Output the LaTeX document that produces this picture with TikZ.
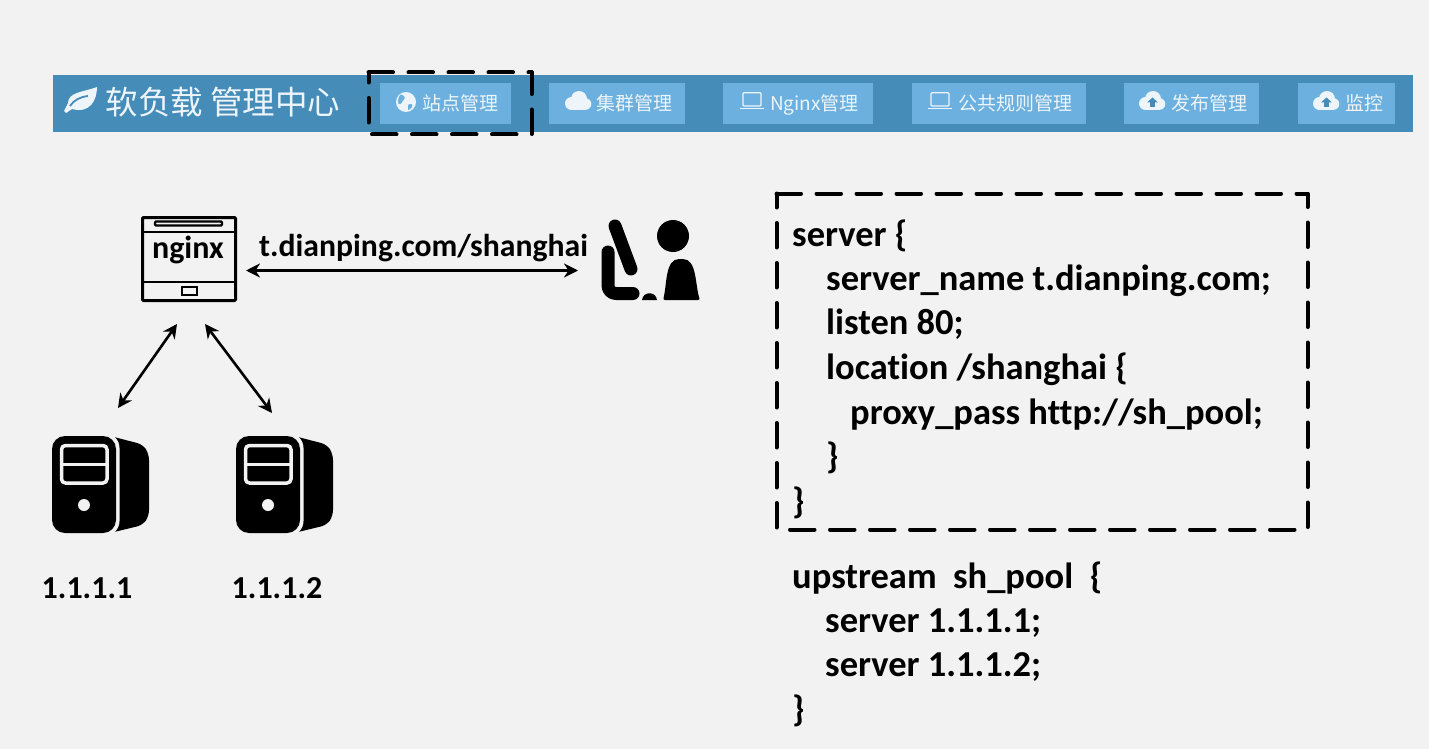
\documentclass[tikz,border=0pt]{standalone}
\usepackage{fontspec}
\setmainfont{Carlito}[Ligatures=NoCommon]
\newfontfamily\cjk{Noto Sans CJK SC}
\usetikzlibrary{arrows.meta,calc}
\definecolor{bg}{HTML}{F2F2F2}
\definecolor{barblue}{HTML}{458CB9}
\definecolor{btnblue}{HTML}{6CB0DF}
\definecolor{btntext}{HTML}{EDF5FA}
\tikzset{
  x=1pt,y=-1pt,
  btn/.style={fill=btnblue,minimum height=41pt,inner sep=0pt,outer sep=0pt,anchor=north west},
  btntxt/.style={text=btntext,font=\cjk\fontsize{19}{19}\selectfont,inner sep=0pt,anchor=base west},
  ghost/.style={inner sep=0pt,outer sep=0pt,anchor=north west},
  dashline/.style={draw=black,line width=4pt,dash pattern=on 24.5pt off 15.5pt,line cap=round,line join=round},
  code/.style={font=\fontsize{36.5}{36.5}\selectfont\bfseries,inner sep=0pt,anchor=base west},
  iplabel/.style={font=\fontsize{32}{32}\selectfont\bfseries,inner sep=0pt},
  biarrow/.style={line width=2.6pt,{Stealth[length=14pt,width=14pt]}-{Stealth[length=14pt,width=14pt]}},
  cloudicon/.pic={
    \fill[btntext] (6.5,12.5) circle (6.5);
    \fill[btntext] (14,8) circle (8);
    \fill[btntext] (20.5,13) circle (5.8);
    \fill[btntext] (6.5,10) rectangle (20.5,19);
  },
  upcloud/.pic={
    \fill[btntext] (6.5,12.5) circle (6.5);
    \fill[btntext] (14,8) circle (8);
    \fill[btntext] (20.5,13) circle (5.8);
    \fill[btntext] (6.5,10) rectangle (20.5,19);
    \fill[barblue] (13.5,6.5) -- (19,11.5) -- (15.8,11.5) -- (15.8,16) -- (11.2,16) -- (11.2,11.5) -- (8,11.5) -- cycle;
  },
  laptop/.pic={
    \draw[btntext,line width=1.3pt,rounded corners=1pt] (3,0.7) rectangle (21,14);
    \draw[btntext,line width=1.8pt] (0,16.5) -- (24,16.5);
  },
  towericon/.pic={
    \fill[black,rounded corners=6pt] (58,0) -- (91,8.5) -- (97,18) -- (97,80) -- (91,89) -- (58,97) -- cycle;
    \fill[bg,rounded corners=15pt] (50,-3) rectangle (67.5,100);
    \fill[black,rounded corners=13pt] (0,0) rectangle (64,97);
    \draw[bg,line width=3.5pt,rounded corners=4pt] (9.5,9.5) rectangle (55,47);
    \draw[bg,line width=3.5pt] (9.5,28.5) -- (55,28.5);
    \fill[bg] (32,69) circle (6);
  }
}
\begin{document}
\begin{tikzpicture}
\useasboundingbox (0,0) rectangle (1429,749);
\fill[bg] (0,0) rectangle (1429,749);
% menu bar
\fill[barblue] (53,75) rectangle (1413,132);
% leaf
\fill[btntext] (64,111) .. controls (66,107) and (67,105) .. (68,103)
  .. controls (68,92) and (84,92) .. (97,87)
  .. controls (97,100) and (90,114) .. (72,109)
  .. controls (70,110) and (68,112) .. (66,113) -- cycle;
\draw[barblue,line width=1.8pt] (70,106) .. controls (74,100) and (80,97) .. (88,96);
\node[text=btntext,font=\cjk\fontsize{32.5}{33}\selectfont,inner sep=0pt,anchor=west] (title) at (105.5,102) {软负载 管理中心};
% buttons
\node[btn,minimum width=131pt] (b1) at (380,83) {};
\node[btn,minimum width=136pt] (b2) at (549,83) {};
\node[btn,minimum width=150pt] (b3) at (723,83) {};
\node[btn,minimum width=174pt] (b4) at (912,83) {};
\node[btn,minimum width=135pt] (b5) at (1124,83) {};
\node[btn,minimum width=97pt] (b6) at (1298,83) {};
% button icons
\fill[btntext] (406,102) circle (10);
\fill[btnblue] (401,94.5) .. controls (405,96) and (406,98) .. (403.5,100) .. controls (401,102) and (402,105) .. (398.5,104) .. controls (397.5,100) and (398.5,96) .. (401,94.5) -- cycle;
\fill[btnblue] (408,105) .. controls (411,103) and (413,104) .. (412,107) .. controls (411,109) and (409,110) .. (408,110) -- cycle;
\pic at (565,91) {cloudicon};
\pic at (740,92) {laptop};
\pic at (928,92) {laptop};
\pic at (1139,91) {upcloud};
\pic at (1313,91) {upcloud};
\node[btntxt] (t1) at (422,110.5) {站点管理};
\node[btntxt] (t2) at (596,110.5) {集群管理};
\node[btntxt] (t3) at (770,110.5) {Nginx管理};
\node[btntxt] (t4) at (958,110.5) {公共规则管理};
\node[btntxt] (t5) at (1171,110.5) {发布管理};
\node[btntxt] (t6) at (1345,110.5) {监控};
% dashed boxes
\node[ghost,minimum width=163pt,minimum height=62pt] (sel) at (368.5,72.5) {};
\draw[dashline] (sel.north west) -- (sel.north east) -- (sel.south east) -- (sel.south west) -- cycle;
\node[ghost,minimum width=531pt,minimum height=336pt] (cfg) at (776.5,193.5) {};
\draw[dashline] (cfg.north west) -- (cfg.north east) -- (cfg.south east) -- (cfg.south west) -- cycle;
% nginx icon
\node[ghost,draw=black,line width=3pt,rounded corners=1pt,minimum width=93pt,minimum height=83pt] (nginx) at (142.5,217.5) {};
\draw[line width=2pt] (nginx.west |- 0,232) -- (nginx.east |- 0,232) (nginx.west |- 0,282) -- (nginx.east |- 0,282);
\draw[line width=2.4pt,rounded corners=1pt] (155,221.5) rectangle (222,225.5);
\draw[line width=2.4pt] (182,287) rectangle (197,295);
\node[font=\fontsize{32}{32}\selectfont\bfseries,inner sep=0pt] (nginxlabel) at (188,249.5) {nginx};
% user icon
\node[ghost,minimum width=97pt,minimum height=81pt] (user) at (603,219) {};
\draw[line width=13pt,line cap=round] (615,226) -- (631,269);
\draw[line width=13pt,line cap=round,line join=round,rounded corners=8pt] (608,252) -- (608,293.5) -- (633,293.5);
\fill[black] (673,236) circle (16);
\fill[black,rounded corners=2pt] (663,300) .. controls (667,285) and (665,259) .. (681,259) .. controls (697,259) and (695,285) .. (700,300) -- cycle;
\fill[black] (642,300) .. controls (643,291) and (656,291) .. (657,300) -- cycle;
% servers
\node[ghost,minimum width=97pt,minimum height=97pt] (srvA) at (52,436) {};
\node[ghost,minimum width=97pt,minimum height=97pt] (srvB) at (236,436) {};
\pic at (52,436) {towericon};
\pic at (236,436) {towericon};
\node[iplabel] (ipA) at (87,588) {1.1.1.1};
\node[iplabel] (ipB) at (277,588) {1.1.1.2};
% connectors
\coordinate (ne) at (246,270.5);
\coordinate (uw) at (578,270.5);
\coordinate (ns1) at (177,324);
\coordinate (ns2) at (205,324);
\coordinate (an) at (118,408);
\coordinate (bn) at (272,413);
\draw[biarrow] (ne) -- (uw);
\draw[biarrow] (ns1) -- (an);
\draw[biarrow] (ns2) -- (bn);
\node[font=\fontsize{31.7}{32}\selectfont\bfseries,inner sep=0pt,anchor=base west] (url) at (259,256) {t.dianping.com/shanghai};
% config text
\node[code] (c1) at (792,246.5) {server \{};
\node[code] (c2) at (826,290) {server\_name t.dianping.com;};
\node[code] (c3) at (826,334.5) {listen 80;};
\node[code] (c4) at (826,379.5) {location /shanghai \{};
\node[code] (c5) at (850,424.5) {proxy\_pass http://sh\_pool;};
\node[code] (c6) at (826,468.5) {\}};
\node[code] (c7) at (792,513.5) {\}};
\node[code] (u1) at (792,588.5) {upstream\ \ sh\_pool\ \ \{};
\node[code] (u2) at (825,632) {server 1.1.1.1;};
\node[code] (u3) at (825,676.5) {server 1.1.1.2;};
\node[code] (u4) at (792,721.5) {\}};
\end{tikzpicture}
\end{document}
